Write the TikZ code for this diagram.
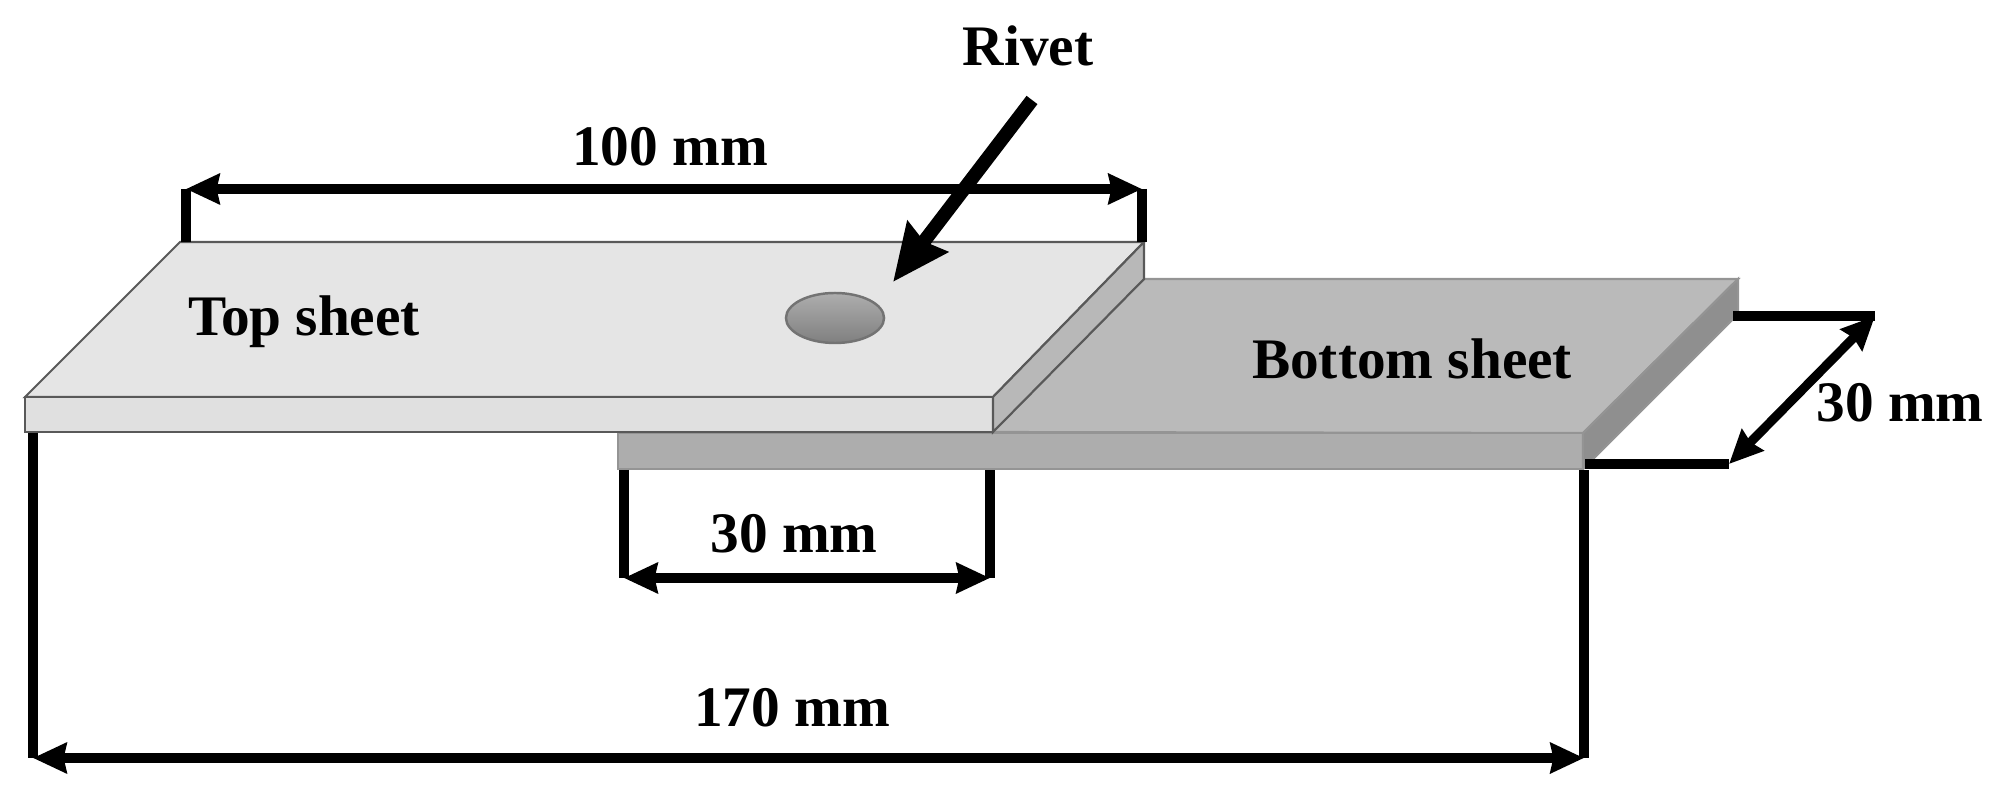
\documentclass[tikz,border=0pt]{standalone}
\usepackage{fontspec}
\setmainfont{Liberation Serif}
\usetikzlibrary{arrows.meta}
\usetikzlibrary{shapes.geometric}
\tikzset{
 dimline/.style={black, line width=2.6pt, >={Stealth[length=9.5pt,width=8.5pt,inset=.8pt]}},
 dimlabel/.style={font=\fontsize{16.3}{18}\selectfont\bfseries, inner sep=0},
 topedge/.style={draw=black!65, line width=.6pt, line join=miter},
 botedge/.style={draw=black!42, line width=.6pt, line join=miter},
}
\begin{document}
\begin{tikzpicture} [x=.01cm,y=-.01cm]
\useasboundingbox (0,0) rectangle (1995,789);
\coordinate (TBL) at (180,242);
\coordinate (TBR) at (1144,242);
\coordinate (TFL) at (25,397);
\coordinate (TFR) at (993,397);
\coordinate (TLL) at (25,432);
\coordinate (TLR) at (993,432);
\coordinate (TSR) at (1144,279);
\coordinate (BFL) at (618,433);
\coordinate (BFR) at (1583,433);
\coordinate (BLL) at (618,469);
\coordinate (BLR) at (1583,469);
\coordinate (BBR) at (1738,279);
\coordinate (BSR) at (1738,314);
% bottom sheet
\path[botedge, fill=black!27] (TSR)--(BBR)--(BFR)--(TLR)--cycle;
\path[botedge, fill=black!32] (BFL)--(BFR)--(BLR)--(BLL)--cycle;
\path[botedge, fill=black!44] (BBR)--(BSR)--(BLR)--(BFR)--cycle;
% top sheet
\path[topedge, fill=black!10] (TBL)--(TBR)--(TFR)--(TFL)--cycle;
\path[topedge, fill=black!12] (TFL)--(TFR)--(TLR)--(TLL)--cycle;
\path[topedge, fill=black!28] (TBR)--(TSR)--(TLR)--(TFR)--cycle;
\node[ellipse, minimum width=.98cm, minimum height=.5cm, inner sep=0, draw=black!55, line width=.7pt, top color=black!32, bottom color=black!50] (rivet) at (835,318) {};
% dimensions
\coordinate (A1) at (186,242);
\coordinate (A2) at (186,189);
\coordinate (A3) at (1142,189);
\coordinate (A4) at (1142,242);
\coordinate (B1) at (624,470);
\coordinate (B2) at (624,578);
\coordinate (B3) at (990,578);
\coordinate (B4) at (990,470);
\coordinate (C1) at (33,433);
\coordinate (C2) at (33,758);
\coordinate (C3) at (1584,758);
\coordinate (C4) at (1584,470);
\coordinate (D1) at (1585,464);
\coordinate (D2) at (1729,464);
\coordinate (D3) at (1875,316);
\coordinate (D4) at (1733,316);
\foreach \p/\q/\r/\s in {A1/A2/A3/A4, B1/B2/B3/B4, C1/C2/C3/C4, D1/D2/D3/D4} {
 \draw[dimline] (\p) -- (\q);
 \draw[dimline] (\r) -- (\s);
 \draw[dimline, <->] (\q) -- (\r);
}
\coordinate (R1) at (1032,100);
\coordinate (R2) at (893,282);
\draw[black, line width=3.9pt, ->, >={Stealth[length=16pt,width=14pt,inset=1.5pt]}] (R1) -- (R2);
\node[dimlabel] (rivetlabel) at (1028,46) {Rivet};
\node[dimlabel] (toplabel) at (304,322) {Top sheet};
\node[dimlabel] (botlabel) at (1412,359) {Bottom sheet};
\node[dimlabel] (dimA) at (670,147) {100 mm};
\node[dimlabel] (dimB) at (794,534) {30 mm};
\node[dimlabel] (dimC) at (792,708) {170 mm};
\node[dimlabel] (dimD) at (1900,403) {30 mm};
\end{tikzpicture}
\end{document}
